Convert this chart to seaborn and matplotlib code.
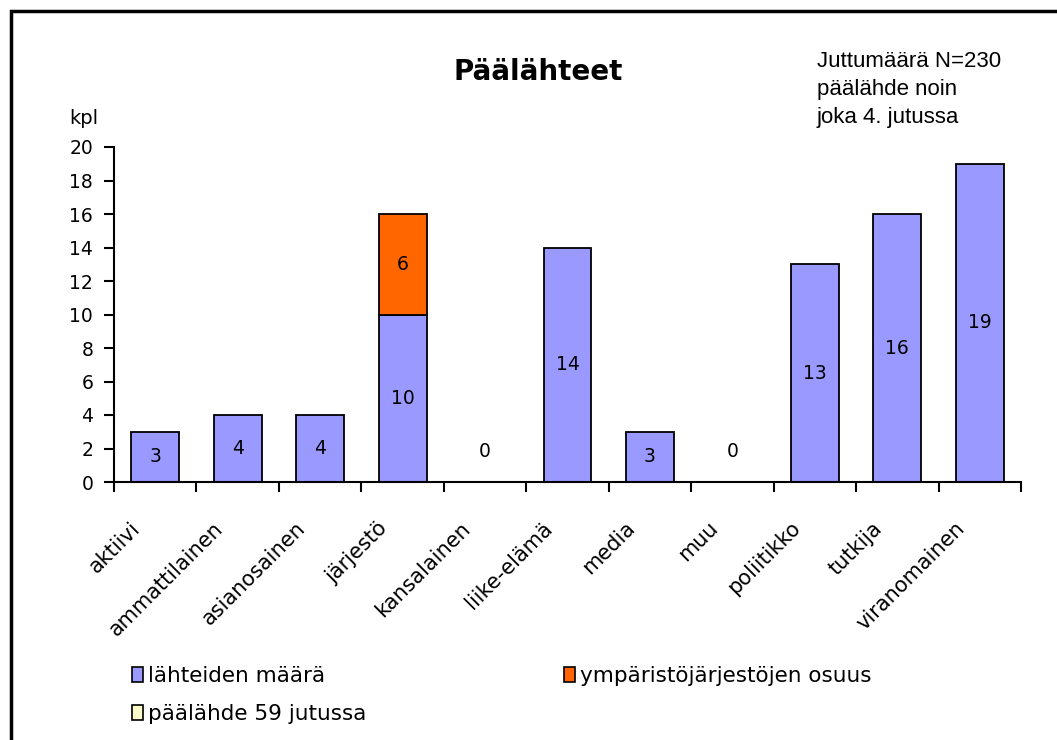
import matplotlib
matplotlib.use("Agg")
import matplotlib.pyplot as plt
import matplotlib.patches as mpatches
import matplotlib.transforms as mtrans
import seaborn as sns
import pandas as pd
import numpy as np

categories = ["aktiivi", "ammattilainen", "asianosainen", "järjestö", "kansalainen",
              "liike-elämä", "media", "muu", "poliitikko", "tutkija", "viranomainen"]
lahteet = [3, 4, 4, 10, 0, 14, 3, 0, 13, 16, 19]
ymparisto = [0, 0, 0, 6, 0, 0, 0, 0, 0, 0, 0]
paalahde = [0, 0, 0, 0, 0, 0, 0, 0, 0, 0, 0]
series_names = ["lähteiden määrä", "ympäristöjärjestöjen osuus", "päälähde 59 jutussa"]
yticks = list(range(0, 21, 2))

BLUE = "#9999FF"
ORANGE = "#FF6600"
YELLOW = "#FFFFCC"

sns.set_style("white")
plt.rcParams['font.family'] = ['DejaVu Sans']
plt.rcParams['text.color'] = 'black'
plt.rcParams['xtick.color'] = 'black'
plt.rcParams['ytick.color'] = 'black'

W, H = 1057, 740
fig = plt.figure(figsize=(W / 100, H / 100), dpi=100)
ax = fig.add_axes([114 / W, 1 - 482 / H, (1021 - 114) / W, (482 - 147) / H])

df = pd.DataFrame({"cat": categories, "a": lahteet, "b": ymparisto, "c": paalahde})
bw = 0.58
sns.barplot(data=df, x="cat", y="a", color=BLUE, edgecolor="black", linewidth=1.3,
            width=bw, saturation=1, ax=ax)
# stacked orange part
bottoms = np.array(lahteet)
for i, v in enumerate(ymparisto):
    if v > 0:
        ax.bar(i, v, bottom=bottoms[i], width=bw, color=ORANGE, edgecolor="black", linewidth=1.3)

# data labels
for i, v in enumerate(lahteet):
    y = v / 2 if v > 0 else 1.8
    ax.text(i, y, str(v), ha="center", va="center", fontsize=13.5, color="black")
for i, v in enumerate(ymparisto):
    if v > 0:
        ax.text(i, lahteet[i] + v / 2, str(v), ha="center", va="center", fontsize=13.5)

ax.set_xlim(-0.5, len(categories) - 0.5)
ax.set_ylim(0, 20)
ax.set_yticks(yticks)
ax.set_yticklabels([str(t) for t in yticks], fontsize=13.5)
ax.set_xlabel("")
ax.set_ylabel("")
for s in ["top", "right"]:
    ax.spines[s].set_visible(False)
for s in ["left", "bottom"]:
    ax.spines[s].set_color("black")
    ax.spines[s].set_linewidth(1.5)
ax.tick_params(axis="y", direction="out", length=7, width=1.5, color="black", left=True, pad=8)

# x ticks: marks at category boundaries, labels at centers
ax.set_xticks(np.arange(len(categories)))
ax.set_xticklabels(categories, rotation=45, ha="right", va="center",
                   rotation_mode="anchor", fontsize=15)
ax.tick_params(axis="x", which="major", length=0, pad=31)
ax.set_xticks(np.arange(-0.5, len(categories)), minor=True)
ax.tick_params(axis="x", which="minor", direction="out", length=7, width=1.5, color="black", bottom=True)
off = mtrans.ScaledTranslation(-18 / 100, 0, fig.dpi_scale_trans)
for lab in ax.get_xticklabels():
    lab.set_transform(lab.get_transform() + off)

ax.grid(False)

# texts
fig.text(538 / W, 1 - 72 / H, "Päälähteet", ha="center", va="center",
         fontsize=20, fontweight="bold")
fig.text(817 / W, 1 - 51 / H, "Juttumäärä N=230\npäälähde noin\njoka 4. jutussa",
         ha="left", va="top", fontsize=16, family=["Liberation Sans"], linespacing=1.45)
fig.text(84 / W, 1 - 118 / H, "kpl", ha="center", va="center", fontsize=14)

# legends
h_blue = mpatches.Patch(facecolor=BLUE, edgecolor="black", linewidth=1.2, label=series_names[0])
h_orange = mpatches.Patch(facecolor=ORANGE, edgecolor="black", linewidth=1.2, label=series_names[1])
h_yellow = mpatches.Patch(facecolor=YELLOW, edgecolor="black", linewidth=1.2, label=series_names[2])
kw = dict(frameon=False, fontsize=15.5, handlelength=0.5, handleheight=0.7, handletextpad=0.25,
          labelspacing=0.85, borderpad=0, borderaxespad=0)
fig.legend(handles=[h_blue, h_yellow], loc="upper left",
           bbox_to_anchor=(132 / W, 1 - 666 / H), **kw)
fig.legend(handles=[h_orange], loc="upper left",
           bbox_to_anchor=(564 / W, 1 - 666 / H), **kw)

# outer frame (left and top edges visible)
frame = mpatches.Rectangle((11 / W, -0.1), 1.2, 1 - 11 / H + 0.1, transform=fig.transFigure,
                           fill=False, edgecolor="black", linewidth=2.5)
fig.patches.append(frame)

fig.savefig("out.png", dpi=100)
